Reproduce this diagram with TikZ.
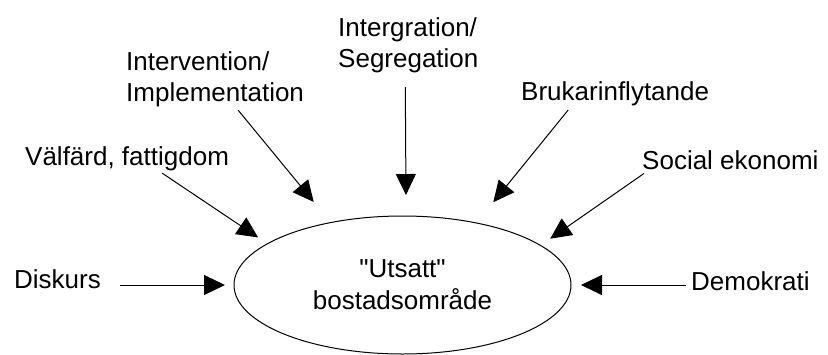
\documentclass[tikz,border=0pt]{standalone}
\usepackage{fontspec}
\setmainfont{Liberation Sans}[Ligatures=TeXOff]
\usetikzlibrary{arrows.meta,shapes.geometric}

\tikzset{
	lbl/.style={inner sep=0pt, anchor=base west, align=left, font=\fontsize{26}{31.5}\selectfont},
	arr/.style={line width=1pt, -{Triangle[length=21pt,width=20pt]}}
}

\begin{document}
\begin{tikzpicture}[x=1pt,y=-1pt]

	\useasboundingbox (0,0) rectangle (828,354);

	% the area in the middle
	\node[draw, line width=1pt, ellipse, minimum width=337pt, minimum height=138pt,
		inner sep=0pt, outer sep=0pt, align=center,
		font=\fontsize{26}{32}\selectfont] (ell) at (402.5,285) {"Utsatt"\\bostadsområde};

	% the themes round it
	\node[lbl] (dis) at (14,288) {Diskurs};
	\node[lbl] (dem) at (691,290) {Demokrati};
	\node[lbl] (vf) at (25,165) {Välfärd, fattigdom};
	\node[lbl] (iv) at (126,101.5) {Intervention/\\Implementation};
	\node[lbl] (ig) at (338,67.5) {Intergration/\\Segregation};
	\node[lbl] (bi) at (521,100) {Brukarinflytande};
	\node[lbl] (se) at (642,169) {Social ekonomi};

	\draw[arr, shorten <=19pt, shorten >=9pt] (dis.east |- ell.west) -- (ell.west);
	\draw[arr, shorten <=5pt, shorten >=10pt] (dem.west |- ell.east) -- (ell.east);
	\draw[arr, shorten >=11.3pt] ([xshift=35pt,yshift=-2.5pt]vf.south) -- (ell.163.4);
	\draw[arr, shorten >=26.7pt] ([xshift=23pt,yshift=-3pt]iv.south) -- (ell.139.4);
	\draw[arr, shorten >=21pt] ([xshift=-3pt,yshift=-14pt]ig.south) -- (ell.87.9);
	\draw[arr, shorten >=26.8pt] ([xshift=-47pt,yshift=-4.5pt]bi.south) -- (ell.40.2);
	\draw[arr, shorten >=11.8pt] ([xshift=2pt,yshift=-4pt]se.south west) -- (ell.16.45);

\end{tikzpicture}
\end{document}
